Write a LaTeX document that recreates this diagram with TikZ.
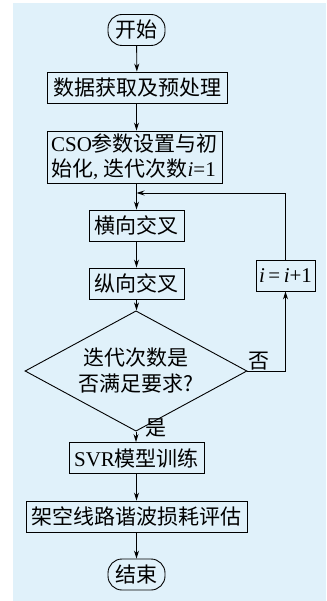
\documentclass[tikz,border=0pt]{standalone}
\usepackage{fontspec}
\setmainfont{Liberation Serif}
\newfontfamily\cjk{Noto Sans CJK SC}
\usetikzlibrary{shapes.geometric,arrows.meta}
\definecolor{bgblue}{RGB}{224,241,250}
\tikzset{
    flowbox/.style={draw, line width=0.9pt, minimum height=31pt, inner sep=0pt,
        font=\fontsize{21}{25}\selectfont},
    terminal/.style={flowbox, rounded corners=14pt, minimum width=57pt},
    decision/.style={draw, line width=0.9pt, diamond, inner sep=-10pt,
        minimum width=222pt, minimum height=88pt, align=center,
        font=\fontsize{21}{26}\selectfont},
    flowarrow/.style={-{Stealth[length=8pt,width=5pt]}, line width=0.9pt}
}
\begin{document}
\begin{tikzpicture}[x=1pt,y=-1pt]
                \useasboundingbox (0,0) rectangle (326,601);
                \fill[bgblue] (13,3) rectangle (326,601);
                % main column
                \node[terminal] (start) at (136.5,30) {\cjk 开始};
                \node[flowbox, minimum width=180pt] (data) at (137,87.5) {\cjk 数据获取及预处理};
                \node[flowbox, minimum width=175pt, minimum height=52pt, align=left] (cso) at (134.5,157)
                    {CSO{\cjk 参数设置与初}\\{\cjk 始化}, {\cjk 迭代次数}\textit{i}=1};
                \node[flowbox, minimum width=95pt] (hx) at (136.5,225.5) {\cjk 横向交叉};
                \node[flowbox, minimum width=95pt] (zx) at (136.5,283.5) {\cjk 纵向交叉};
                \node[decision] (judge) at (136,371) {\cjk 迭代次数是\\\cjk 否满足要求?};
                \node[flowbox, minimum width=135pt] (svr) at (136.5,458) {SVR{\cjk 模型训练}};
                \node[flowbox, minimum width=221pt] (loss) at (136.5,516.5) {\cjk 架空线路谐波损耗评估};
                \node[terminal] (stop) at (136.5,574.5) {\cjk 结束};
                % loop
                \node[flowbox, minimum width=59pt] (inc) at (285.5,275.5) {\textit{i}\,=\,\textit{i}+1};
                \coordinate (merge) at (136.5,193);
                % arrows
                \draw[flowarrow] (start) -- (data);
                \draw[flowarrow] (data.south -| start) -- (start |- cso.north);
                \draw[line width=0.9pt] (start |- cso.south) -- (merge);
                \draw[flowarrow] (merge) -- (hx);
                \draw[flowarrow] (hx) -- (zx);
                \draw[flowarrow] (zx) -- (zx |- judge.north);
                \draw[flowarrow] (judge.south) -- node[pos=0.3, right, xshift=6pt, yshift=7pt, font=\fontsize{21}{25}\selectfont]{\cjk 是} (judge.south |- svr.north);
                \draw[flowarrow] (svr) -- (loss);
                \draw[flowarrow] (loss) -- (stop);
                \draw[flowarrow] (judge.east) -| node[pos=0.15, above, yshift=-3pt, font=\fontsize{21}{25}\selectfont]{\cjk 否} (inc.south);
                \draw[flowarrow] (inc.north) |- (merge);
            \end{tikzpicture}
\end{document}
